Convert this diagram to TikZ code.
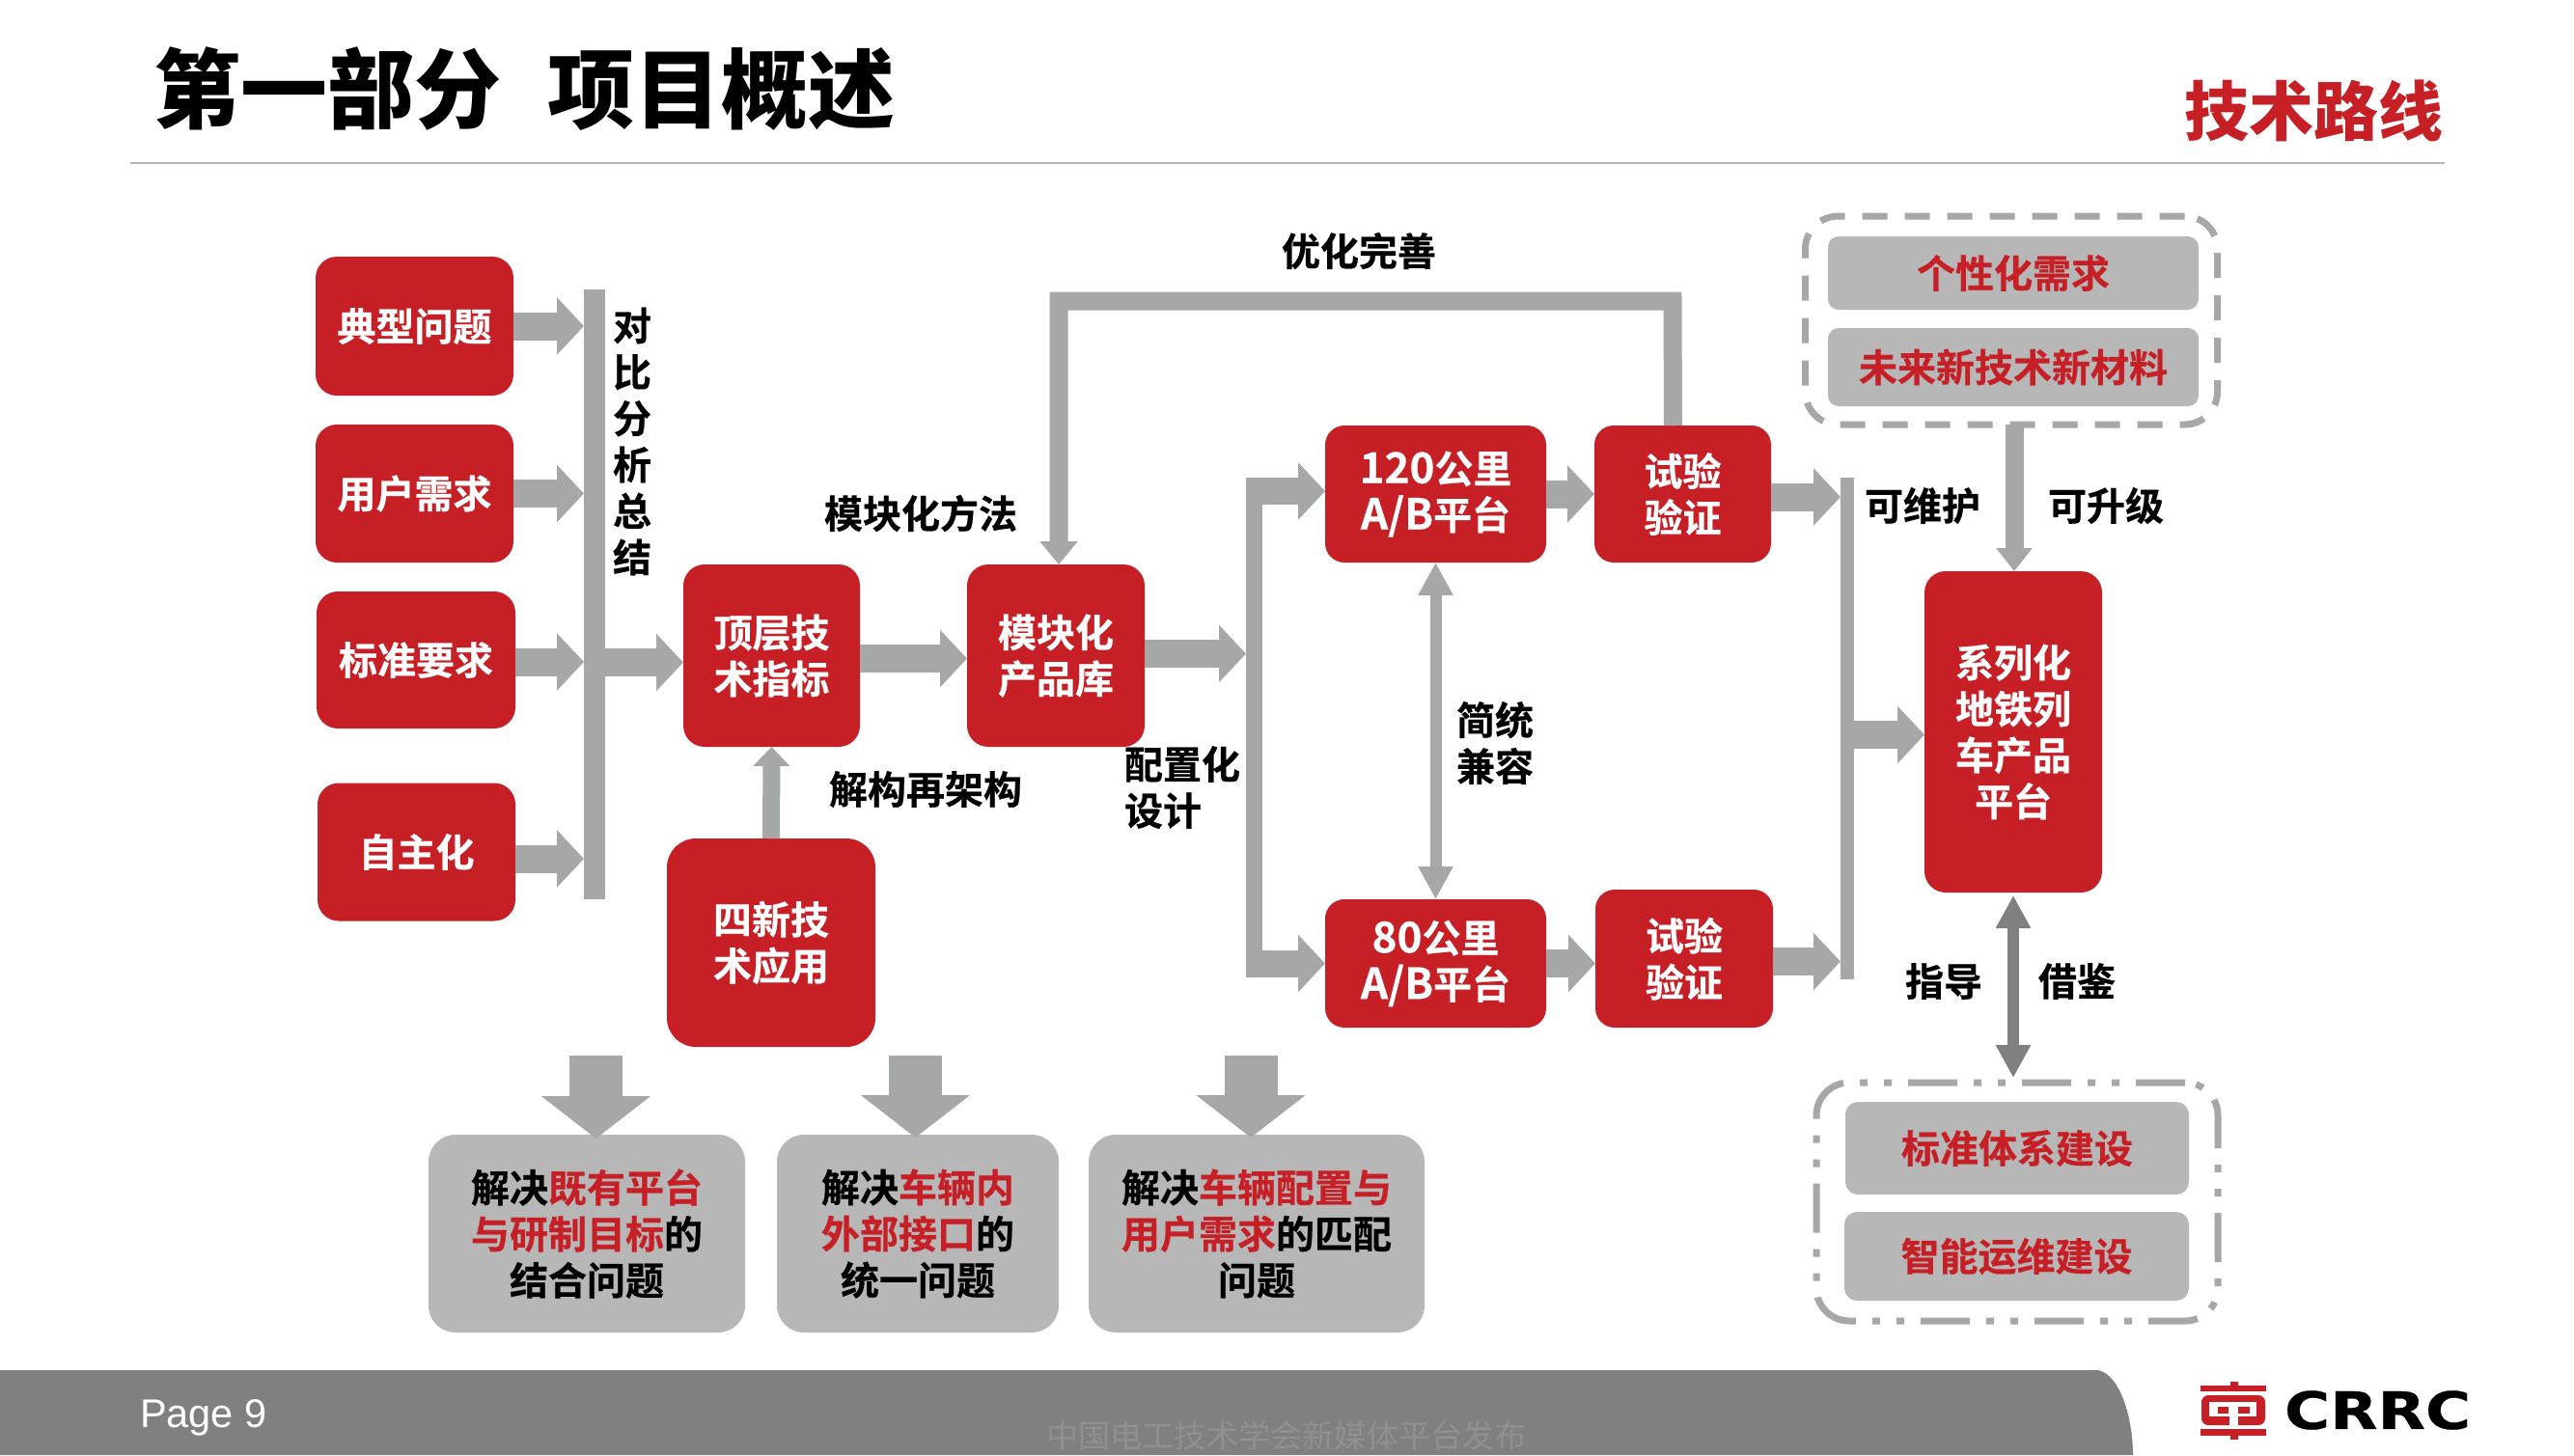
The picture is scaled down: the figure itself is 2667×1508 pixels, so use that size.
\documentclass[tikz,border=0pt]{standalone}
\usepackage{fontspec}
\usetikzlibrary{arrows.meta}
\setmainfont{Noto Sans CJK SC}[BoldFont={Noto Sans CJK SC Bold}]
\newfontfamily\cjkbold{Noto Sans CJK SC Bold}[FakeBold=0.5]
\newfontfamily\cjkblack{Noto Sans CJK SC Black}
\newfontfamily\cjkreg{Noto Sans CJK SC}
\newfontfamily\arialf{Liberation Sans}
\newfontfamily\logof{DejaVu Sans Bold}[FakeBold=0.5]
\definecolor{crred}{HTML}{C62026}
\definecolor{arw}{HTML}{A6A8A7}
\definecolor{boxg}{HTML}{B7B7B7}
\definecolor{foot}{HTML}{7F8180}
\definecolor{dbl}{HTML}{808080}
\definecolor{wm}{HTML}{8F9090}
\newcommand{\rd}[1]{\textcolor{crred}{#1}}
\newcommand{\lat}[1]{{\fontsize{44}{48}\selectfont #1}}
\tikzset{
  x=1pt,y=-1pt,
  base/.style={inner sep=0pt,outer sep=0pt,align=center,font=\fontsize{40}{48}\selectfont\cjkbold},
  redbox/.style={base,fill=crred,text=white,rounded corners=22pt},
  redbig/.style={redbox,rounded corners=30pt},
  graybox/.style={base,fill=boxg,text=black,rounded corners=28pt},
  pill/.style={base,fill=boxg,text=crred,rounded corners=11pt},
  lbl/.style={base,text=black},
  barnode/.style={inner sep=0pt,outer sep=0pt,fill=arw},
  blk/.style={draw=arw,line width=29pt,-{Triangle[length=28pt,width=58pt]}},
  thinblk/.style={draw=arw,line width=18pt,-{Triangle[length=20pt,width=37pt]}},
  bigdn/.style={draw=arw,line width=55pt,-{Triangle[length=44pt,width=111pt]}},
  dblthin/.style={draw=arw,line width=12pt,{Triangle[length=34pt,width=34pt]}-{Triangle[length=34pt,width=34pt]}},
  dbldark/.style={draw=dbl,line width=12pt,{Triangle[length=34pt,width=34pt]}-{Triangle[length=34pt,width=34pt]}},
  dashbox/.style={inner sep=0pt,outer sep=0pt,draw=arw,line width=7pt,rounded corners=34pt},
}
\begin{document}
\begin{tikzpicture}
\useasboundingbox (0,0) rectangle (2667,1508);
% header
\node[base,font=\fontsize{90}{100}\selectfont\cjkblack,anchor=west] (title) at (159,92) {第一部分\hspace{49pt}项目概述};
\node[base,font=\fontsize{67}{72}\selectfont\cjkblack,text=crred,anchor=east] (sect) at (2531,115) {技术路线};
\coordinate (ruleL) at (135,169);
\coordinate (ruleR) at (2533,169);
\draw[draw=boxg,line width=1.5pt] (ruleL) -- (ruleR);
% left column
\node[redbox,minimum width=205pt,minimum height=144pt] (a1) at (429.5,338) {典型问题};
\node[redbox,minimum width=205pt,minimum height=143pt] (a2) at (429.5,511.5) {用户需求};
\node[redbox,minimum width=206pt,minimum height=142pt] (a3) at (431,684) {标准要求};
\node[redbox,minimum width=205pt,minimum height=143pt] (a4) at (431.5,883) {自主化};
\node[barnode,minimum width=22pt,minimum height=632pt] (bar) at (616,616) {};
\node[lbl] (barlbl) at (655,457.5) {对\\比\\分\\析\\总\\结};
\draw[blk] (a1.east) -- (a1.east -| bar.west);
\draw[blk] (a2.east) -- (a2.east -| bar.west);
\draw[blk] ([yshift=-2pt]a3.east) -- ([yshift=-2pt]a3.east -| bar.west);
\draw[blk] ([yshift=-7pt]a4.east) -- ([yshift=-7pt]a4.east -| bar.west);
% middle
\node[redbox,minimum width=183pt,minimum height=189pt] (top) at (799.5,679.5) {顶层技\\术指标};
\node[redbox,minimum width=184pt,minimum height=189pt] (mod) at (1094,679.5) {模块化\\产品库};
\node[redbig,minimum width=216pt,minimum height=216pt] (four) at (799,977) {四新技\\术应用};
\draw[blk] ([yshift=-7pt]bar.east |- top.west) -- ([yshift=-7pt]top.west);
\draw[thinblk] (four.north) -- (top.south);
\draw[blk] ([yshift=-3pt]top.east) -- ([yshift=-3pt]mod.west);
\node[lbl] (lmod) at (954,532) {模块化方法};
\node[lbl] (ljie) at (959,818) {解构再架构};
\node[lbl,align=left,anchor=west] (lpei) at (1165,816) {配置化\\设计};
% bracket
\node[barnode,minimum width=17pt,minimum height=517pt] (brk) at (1299.5,753.5) {};
\draw[blk] ([yshift=2pt]mod.east) -- ([yshift=2pt]mod.east -| brk.west);
\node[redbox,minimum width=229pt,minimum height=142pt,rounded corners=20pt] (p120) at (1487.5,512) {\lat{120}公里\\\lat{A/B}平台};
\node[redbox,minimum width=229pt,minimum height=133pt,rounded corners=20pt] (p80) at (1487.5,998.5) {\lat{80}公里\\\lat{A/B}平台};
\node[redbox,minimum width=183pt,minimum height=142pt,rounded corners=20pt] (t1) at (1743.5,512) {试验\\验证};
\node[redbox,minimum width=184pt,minimum height=143pt,rounded corners=20pt] (t2) at (1745,993.5) {试验\\验证};
\draw[blk,line width=28pt] ([yshift=3pt]brk.west |- p120.west) -- ([yshift=3pt]p120.west);
\draw[blk,line width=28pt] (brk.west |- p80.west) -- (p80.west);
\draw[blk] (p120.east) -- (p120.east -| t1.west);
\draw[blk] (p80.east) -- (p80.east -| t2.west);
\draw[dblthin] (p120.south) -- (p80.north);
\node[lbl] (ljian) at (1549,770) {简统\\兼容};
% right bar
\node[barnode,minimum width=14pt,minimum height=520pt] (rbar) at (1914,755) {};
\draw[blk] ([yshift=-3pt]t1.east) -- ([yshift=-3pt]t1.east -| rbar.west);
\draw[blk] ([yshift=-3pt]t2.east) -- ([yshift=-3pt]t2.east -| rbar.west);
\node[redbox,minimum width=184pt,minimum height=333pt] (sys) at (2086,758.5) {系列化\\地铁列\\车产品\\平台};
\draw[blk] ([yshift=-3pt]rbar.east |- sys.west) -- ([yshift=-3pt]sys.west);
% loop
\coordinate (lp) at (1733,312);
\draw[draw=arw,line width=19pt,-{Triangle[length=24pt,width=38pt]},line join=miter] ([xshift=-10pt]t1.north) -- (lp) -- ([xshift=3pt]mod.north |- lp) -- ([xshift=3pt]mod.north);
\node[lbl] (lopt) at (1408,260) {优化完善};
% top right
\node[dashbox,dash pattern=on 26pt off 18pt,minimum width=427pt,minimum height=216pt] (d1) at (2084,332) {};
\node[pill,minimum width=384pt,minimum height=76pt] (n1) at (2086,283) {个性化需求};
\node[pill,minimum width=384pt,minimum height=81pt] (n2) at (2086,380.5) {未来新技术新材料};
\draw[draw=arw,line width=19pt,-{Triangle[length=24pt,width=36pt]}] ([xshift=3pt]d1.south) -- ([xshift=1pt]sys.north);
\node[lbl] (lwh) at (1992,524) {可维护};
\node[lbl] (lsj) at (2182,524) {可升级};
% bottom right
\node[dashbox,dash pattern=on 51pt off 17pt on 8pt off 17pt on 8pt off 17pt,minimum width=416pt,minimum height=247pt] (d2) at (2090,1245.5) {};
\node[pill,minimum width=356pt,minimum height=96pt,rounded corners=13pt] (n3) at (2090,1190) {标准体系建设};
\node[pill,minimum width=357pt,minimum height=92pt,rounded corners=13pt] (n4) at (2089.5,1302) {智能运维建设};
\draw[dbldark,shorten <=3pt] (sys.south) -- ([yshift=5pt]sys.south |- d2.north);
\node[lbl] (lzd) at (2014,1017) {指导};
\node[lbl] (ljj) at (2152,1017) {借鉴};
% bottom boxes
\node[graybox,minimum width=328pt,minimum height=205pt] (g1) at (608,1278.5) {解决\rd{既有平台}\\\rd{与研制目标}的\\结合问题};
\node[graybox,minimum width=292pt,minimum height=205pt] (g2) at (951,1278.5) {解决\rd{车辆内}\\\rd{外部接口}的\\统一问题};
\node[graybox,minimum width=348pt,minimum height=205pt] (g3) at (1302,1278.5) {解决\rd{车辆配置与}\\\rd{用户需求}的匹配\\问题};
\coordinate (s1) at (617.5,1094);
\coordinate (s2) at (948.5,1094);
\coordinate (s3) at (1296,1094);
\draw[bigdn] (s1) -- ([yshift=-4pt]s1 |- g1.north);
\draw[bigdn] (s2) -- ([yshift=-3pt]s2 |- g2.north);
\draw[bigdn] (s3) -- ([yshift=-3pt]s3 |- g3.north);
% footer
\fill[foot] (0,1420) -- (2174,1420) .. controls (2197,1425) and (2210,1470) .. (2210,1508) -- (0,1508) -- cycle;
\node[base,font=\fontsize{41.5}{48}\selectfont\arialf,text=white,anchor=west] (page) at (145,1469) {Page 9};
\node[base,font=\fontsize{33.2}{40}\selectfont\cjkreg,text=wm] (wmk) at (1333,1488) {中国电工技术学会新媒体平台发布};
% logo
\fill[crred] (2280,1436) rectangle (2348,1442);
\fill[crred] (2311,1431.5) rectangle (2319,1436);
\fill[crred] (2280,1481) rectangle (2348,1488);
\fill[crred] (2311,1488) rectangle (2319,1492);
\fill[crred,rounded corners=7pt] (2281,1446) rectangle (2347,1477);
\fill[white] (2289,1453) rectangle (2338,1468);
\fill[white] (2310,1468) rectangle (2319,1477);
\fill[white] (2310,1453) rectangle (2319,1468);
\fill[crred] (2298,1458) rectangle (2309,1465);
\fill[crred] (2319,1458) rectangle (2331,1465);
\node[base,font=\fontsize{53.5}{60}\selectfont\logof,text=black,anchor=west] (crrc) at (2367,1461.5) {\scalebox{1.2}[1]{CRRC}};
\end{tikzpicture}
\end{document}
